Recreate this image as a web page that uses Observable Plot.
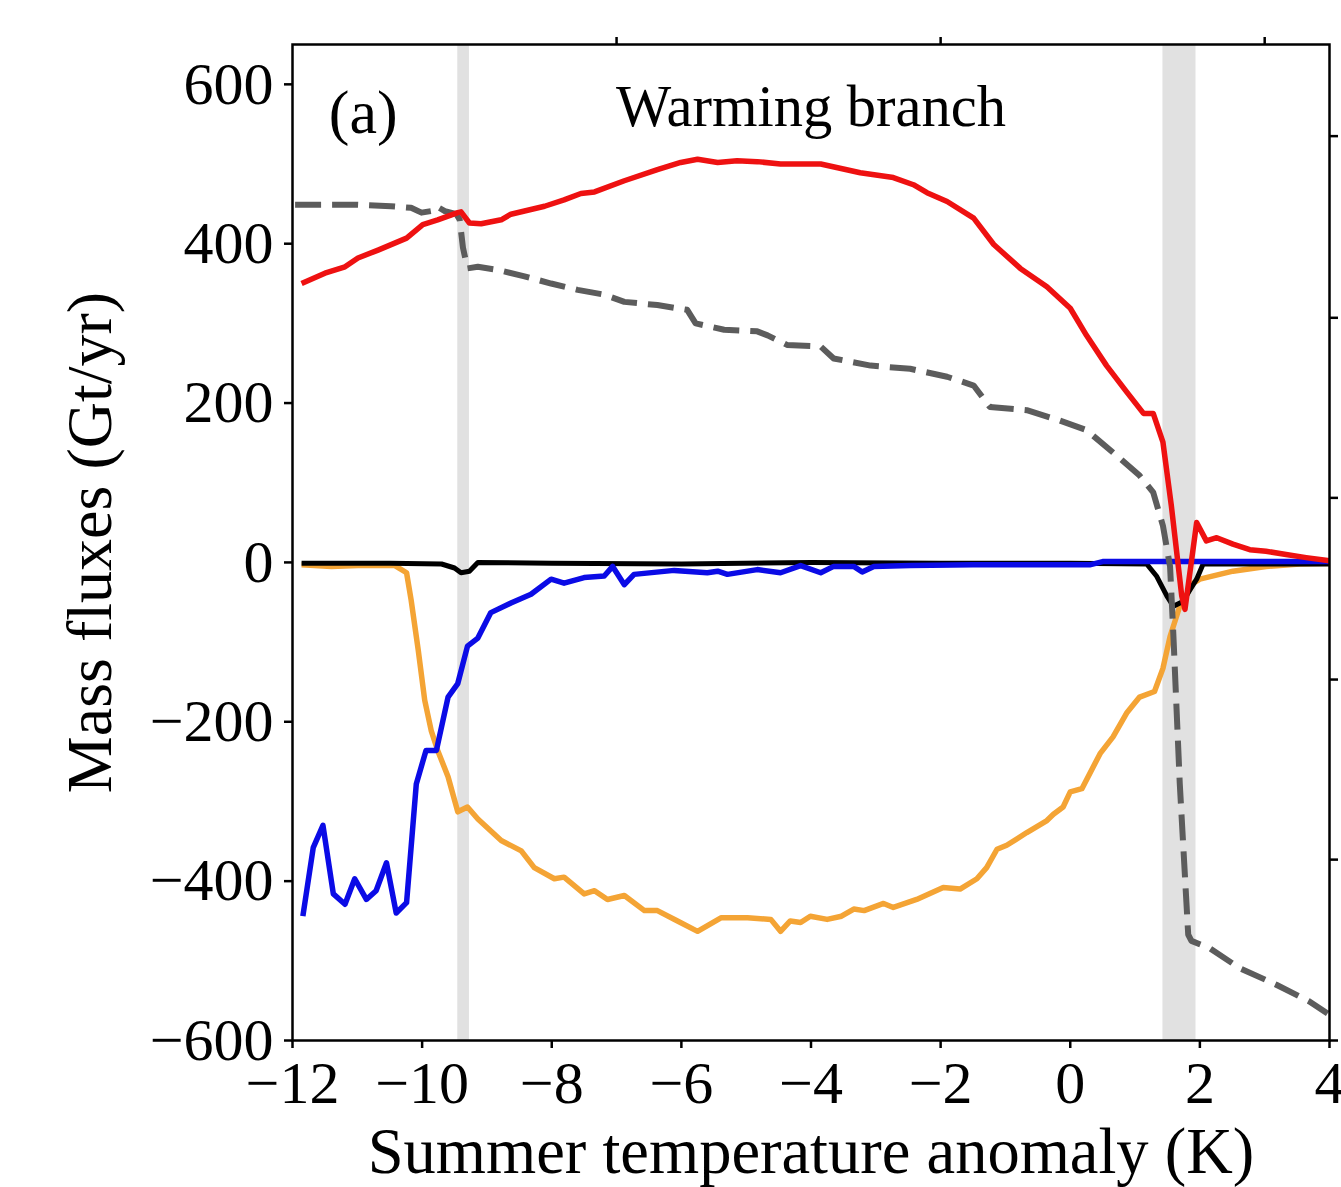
<!DOCTYPE html>
<html>
<head>
<meta charset="utf-8">
<script src="https://cdn.jsdelivr.net/npm/d3@7"></script>
<script src="https://cdn.jsdelivr.net/npm/@observablehq/plot@0.6"></script>
<style>
  html, body { margin: 0; padding: 0; background: white; }
</style>
</head>
<body>
<div id="chart"></div>
<script>
// ---- data ----
const xTicks = [-12, -10, -8, -6, -4, -2, 0, 2, 4];
const yTicks = [-600, -400, -200, 0, 200, 400, 600];
const topTicks = [-7, -2, 3];
const rightTicks = [-600, -373, -147, 81, 307, 535];
const bands = [[-9.45, -9.27], [1.43, 1.94]];

const red = [[-11.86,350],[-11.5,363],[-11.19,371],[-10.99,382],[-10.68,392],[-10.24,407],[-9.99,424],[-9.76,430],[-9.45,439],[-9.40,440],[-9.27,426],[-9.09,425],[-8.78,430],[-8.63,437],[-8.42,441],[-8.11,447],[-7.81,455],[-7.55,463],[-7.34,465],[-6.88,479],[-6.37,493],[-6.01,502],[-5.75,506],[-5.44,502],[-5.14,504],[-4.83,503],[-4.47,500],[-3.85,500],[-3.24,489],[-2.73,483],[-2.42,474],[-2.21,464],[-1.90,453],[-1.49,432],[-1.18,399],[-0.77,369],[-0.36,346],[0.0,319],[0.25,285],[0.56,247],[0.87,214],[1.13,187],[1.28,187],[1.43,151],[1.56,71],[1.72,-42],[1.77,-59],[1.95,50],[2.10,27],[2.26,31],[2.51,23],[2.77,16],[3.02,14],[3.33,10],[3.64,6],[4.0,2]];

const dashed = [[-11.96,449],[-11.5,449],[-10.99,449],[-10.48,447],[-10.17,445],[-10.01,439],[-9.86,441],[-9.78,447],[-9.65,441],[-9.47,437],[-9.42,430],[-9.37,395],[-9.30,369],[-9.14,371],[-8.83,367],[-8.42,359],[-8.01,350],[-7.60,342],[-7.19,336],[-6.88,327],[-6.37,323],[-5.91,317],[-5.78,300],[-5.34,292],[-4.83,290],[-4.67,285],[-4.37,273],[-3.85,271],[-3.65,256],[-3.08,247],[-2.47,243],[-1.90,233],[-1.49,222],[-1.24,195],[-0.67,191],[-0.16,178],[0.25,166],[0.66,138],[1.07,109],[1.28,88],[1.43,46],[1.54,-5],[1.59,-89],[1.69,-278],[1.82,-467],[1.87,-475],[2.15,-484],[2.61,-509],[3.18,-530],[3.69,-551],[3.97,-566]];

const orange = [[-11.86,-3],[-11.4,-5],[-10.99,-4],[-10.42,-4],[-10.24,-13],[-10.17,-47],[-10.06,-110],[-9.96,-173],[-9.86,-211],[-9.76,-236],[-9.60,-269],[-9.45,-313],[-9.30,-307],[-9.14,-322],[-8.78,-349],[-8.47,-362],[-8.27,-383],[-7.96,-397],[-7.81,-395],[-7.50,-416],[-7.34,-412],[-7.14,-423],[-6.88,-418],[-6.57,-437],[-6.37,-437],[-6.06,-450],[-5.75,-463],[-5.39,-446],[-4.98,-446],[-4.62,-448],[-4.47,-463],[-4.32,-450],[-4.16,-452],[-4.01,-444],[-3.75,-448],[-3.53,-444],[-3.34,-435],[-3.18,-437],[-2.88,-428],[-2.73,-433],[-2.37,-423],[-1.96,-408],[-1.70,-410],[-1.44,-397],[-1.29,-383],[-1.13,-360],[-0.98,-355],[-0.67,-339],[-0.36,-324],[-0.26,-316],[-0.11,-307],[0.0,-288],[0.18,-284],[0.46,-240],[0.66,-219],[0.87,-189],[1.07,-169],[1.30,-162],[1.43,-133],[1.54,-93],[1.69,-55],[1.90,-26],[2.0,-21],[2.51,-11],[3.02,-5],[3.54,-2],[4.0,-1]];

const blue = [[-11.84,-444],[-11.68,-358],[-11.53,-330],[-11.37,-416],[-11.19,-429],[-11.04,-397],[-10.86,-423],[-10.71,-412],[-10.55,-377],[-10.40,-440],[-10.24,-427],[-10.09,-278],[-9.94,-236],[-9.78,-236],[-9.60,-169],[-9.45,-152],[-9.30,-105],[-9.14,-95],[-8.94,-63],[-8.63,-51],[-8.32,-40],[-8.01,-21],[-7.81,-26],[-7.50,-19],[-7.19,-17],[-7.06,-5],[-6.88,-28],[-6.73,-15],[-6.11,-10],[-5.60,-13],[-5.44,-11],[-5.29,-15],[-4.83,-9],[-4.47,-13],[-4.16,-4],[-3.85,-13],[-3.65,-5],[-3.34,-5],[-3.21,-12],[-3.03,-5],[-2.47,-4],[-1.5,-3],[-0.5,-3],[0.3,-3],[0.5,1],[4.0,1]];

const black = [[-11.86,-1],[-10.5,-1],[-9.7,-2],[-9.50,-7],[-9.40,-13],[-9.27,-11],[-9.14,0],[-8,-1],[-6,-2],[-4,0],[-2,-1],[0,-1],[1.18,-2],[1.33,-17],[1.49,-42],[1.59,-55],[1.74,-49],[1.85,-34],[1.95,-21],[2.05,-2],[3,-2],[4,-2]];

const xLabel = "Summer temperature anomaly (K)";
const yLabel = "Mass fluxes (Gt/yr)";
const panelLabel = "(a)";
const branchLabel = "Warming branch";

// ---- chart ----
const fmt = d => d < 0 ? "\u2212" + Math.abs(d) : String(d);
const lineOpts = (color, w, extra = {}) => ({x: d => d[0], y: d => d[1], stroke: color, strokeWidth: w, strokeLinejoin: "round", strokeLinecap: "butt", ...extra});

const chart = Plot.plot({
  width: 1341,
  height: 1187,
  marginLeft: 292,
  marginRight: 12,
  marginTop: 44,
  marginBottom: 147,
  x: {domain: [-12, 4]},
  y: {domain: [-600, 650]},
  style: {fontFamily: "'Liberation Serif', serif", background: "white", color: "black"},
  marks: [
    Plot.rect(bands, {x1: d => d[0], x2: d => d[1], fill: "#e1e1e1"}),
    Plot.line(orange, lineOpts("#f4a435", 5.5)),
    Plot.line(black, lineOpts("#000000", 5)),
    Plot.line(blue, lineOpts("#0b0be6", 5.5)),
    Plot.line(dashed, lineOpts("#5c5c5c", 6, {strokeDasharray: "26 11"})),
    Plot.line(red, lineOpts("#ee1111", 5.5)),
    Plot.frame({stroke: "black", strokeWidth: 2.5}),
    Plot.axisX({ticks: xTicks, tickSize: 8, tickPadding: 12, tickFormat: fmt, fontSize: 60, strokeWidth: 2.5, label: null}),
    Plot.axisY({ticks: yTicks, tickSize: 8, tickPadding: 11, tickFormat: fmt, fontSize: 60, strokeWidth: 2.5, label: null}),
    Plot.axisX({anchor: "top", ticks: topTicks, tickSize: 8, tickFormat: () => "", strokeWidth: 2.5, label: null}),
    Plot.axisY({anchor: "right", ticks: rightTicks, tickSize: 8, tickFormat: () => "", strokeWidth: 2.5, label: null}),
    Plot.text([xLabel], {text: d => d, frameAnchor: "bottom", textAnchor: "middle", dy: 132, lineAnchor: "bottom", fontSize: 64.5}),
    Plot.text([yLabel], {text: d => d, frameAnchor: "left", textAnchor: "middle", dx: -202, rotate: -90, lineAnchor: "middle", fontSize: 64}),
    Plot.text([panelLabel], {text: d => d, x: -11.44, y: 539, textAnchor: "start", lineAnchor: "bottom", fontSize: 62}),
    Plot.text([branchLabel], {text: d => d, x: -7.01, y: 548, textAnchor: "start", lineAnchor: "bottom", fontSize: 58.5})
  ]
});
document.getElementById("chart").appendChild(chart);
</script>
</body>
</html>
